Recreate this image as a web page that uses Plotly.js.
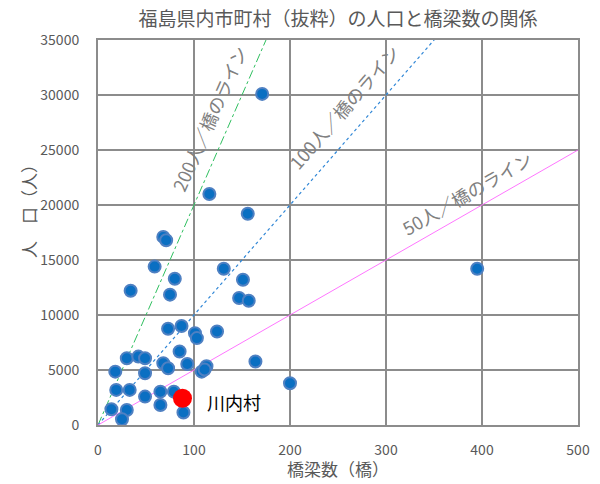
<!DOCTYPE html>
<html>
<head>
<meta charset="utf-8">
<script src="https://cdn.plot.ly/plotly-3.0.1.min.js"></script>
<style>
  html, body { margin: 0; padding: 0; background: #ffffff; }
  #chart { width: 600px; height: 484px; }
</style>
</head>
<body>
<div id="chart"></div>
<script>
// 橋梁数（橋）
const bridges = [171, 116, 156, 68, 71, 59, 80, 34, 75, 131, 151, 147, 157, 395,
                 73, 87, 101, 103, 124, 85, 93, 108, 113, 111, 164, 200,
                 30, 42, 49, 18, 49, 68, 73, 19, 33, 49, 65, 65, 79, 89, 14, 30, 25];
// 人口（人）
const population = [30100, 21000, 19200, 17100, 16800, 14400, 13300, 12200, 11850, 14200, 13200, 11550, 11300, 14200,
                    8750, 9000, 8350, 7900, 8500, 6680, 5550, 4850, 5350, 5050, 5770, 3800,
                    6070, 6220, 6070, 4850, 4710, 5620, 5160, 3190, 3190, 2580, 3030, 1820, 3030, 1140, 1430, 1370, 520];

// 川内村
const kawauchiName = "川内村";
const kawauchiBridges = [88];
const kawauchiPopulation = [2430];

// 人／橋 の基準線
const ratios = [200, 100, 50];
const ratioLabels = ["200人／橋のライン", "100人／橋のライン", "50人／橋のライン"];
const xMax = 500, yMax = 35000;

const fontJP = '"Noto Sans CJK JP", "Noto Sans", sans-serif';

// reference line styles
const lineStyles = [
  { color: "#2fbf5f", dash: "dashdot", width: 1 },
  { color: "#2f86d6", dash: "dot", width: 1.2 },
  { color: "#ff66ff", dash: "solid", width: 0.9 }
];

const traces = [];
ratios.forEach((r, i) => {
  traces.push({
    type: "scatter", mode: "lines",
    x: [0, xMax], y: [0, r * xMax],
    line: lineStyles[i],
    hoverinfo: "skip", showlegend: false
  });
});

traces.push({
  type: "scatter", mode: "markers",
  x: bridges, y: population,
  marker: { size: 12, color: "#0a6fc2", line: { color: "#4f80c2", width: 2 } },
  showlegend: false
});

traces.push({
  type: "scatter", mode: "markers",
  x: kawauchiBridges, y: kawauchiPopulation,
  marker: { size: 19, color: "#ff0000" },
  showlegend: false
});

// label placement along each reference line (just above / left of it)
const labelPos = [
  { x: 116, y: 27900, angle: -66 },
  { x: 256, y: 28900, angle: -49 },
  { x: 384, y: 21100, angle: -30 }
];

const annotations = ratioLabels.map((t, i) => ({
  text: t, x: labelPos[i].x, y: labelPos[i].y, xref: "x", yref: "y",
  textangle: labelPos[i].angle, showarrow: false,
  font: { family: fontJP, size: 18, color: "#808080" }
}));

annotations.push({
  text: kawauchiName, x: kawauchiBridges[0] + 23, y: kawauchiPopulation[0] - 300,
  xref: "x", yref: "y", xanchor: "left", yanchor: "middle", showarrow: false,
  font: { family: fontJP, size: 18, color: "#000000" }
});

annotations.push({
  text: "人　口（人）", xref: "paper", yref: "paper", x: -0.146, y: 0.566,
  textangle: -90, showarrow: false, xanchor: "center", yanchor: "middle",
  font: { family: fontJP, size: 17, color: "#595959" }
});

annotations.push({
  text: "橋梁数（橋）", xref: "paper", yref: "paper", x: 0.5, y: -0.114,
  showarrow: false, xanchor: "center", yanchor: "middle",
  font: { family: fontJP, size: 17, color: "#595959" }
});

const axisCommon = {
  showgrid: true, gridcolor: "#8c8c8c", gridwidth: 2,
  showline: true, linecolor: "#8c8c8c", linewidth: 2, mirror: true,
  zeroline: false, ticks: "",
  tickformat: "d", exponentformat: "none",
  tickfont: { family: fontJP, size: 14, color: "#595959" }
};

const layout = {
  width: 600, height: 484,
  margin: { l: 98, r: 22, t: 40, b: 59 },
  paper_bgcolor: "#ffffff", plot_bgcolor: "#ffffff",
  title: {
    text: "福島県内市町村（抜粋）の人口と橋梁数の関係",
    font: { family: fontJP, size: 19, color: "#595959" },
    xref: "paper", x: 0.5, xanchor: "center",
    yref: "container", y: 0.959, yanchor: "middle"
  },
  xaxis: Object.assign({}, axisCommon, {
    range: [0, xMax], dtick: 100, ticklabelstandoff: 11
  }),
  yaxis: Object.assign({}, axisCommon, {
    range: [0, yMax], dtick: 5000, ticklabelstandoff: 14
  }),
  annotations: annotations,
  showlegend: false
};

Plotly.newPlot("chart", traces, layout, { staticPlot: true, displayModeBar: false });
</script>
</body>
</html>
